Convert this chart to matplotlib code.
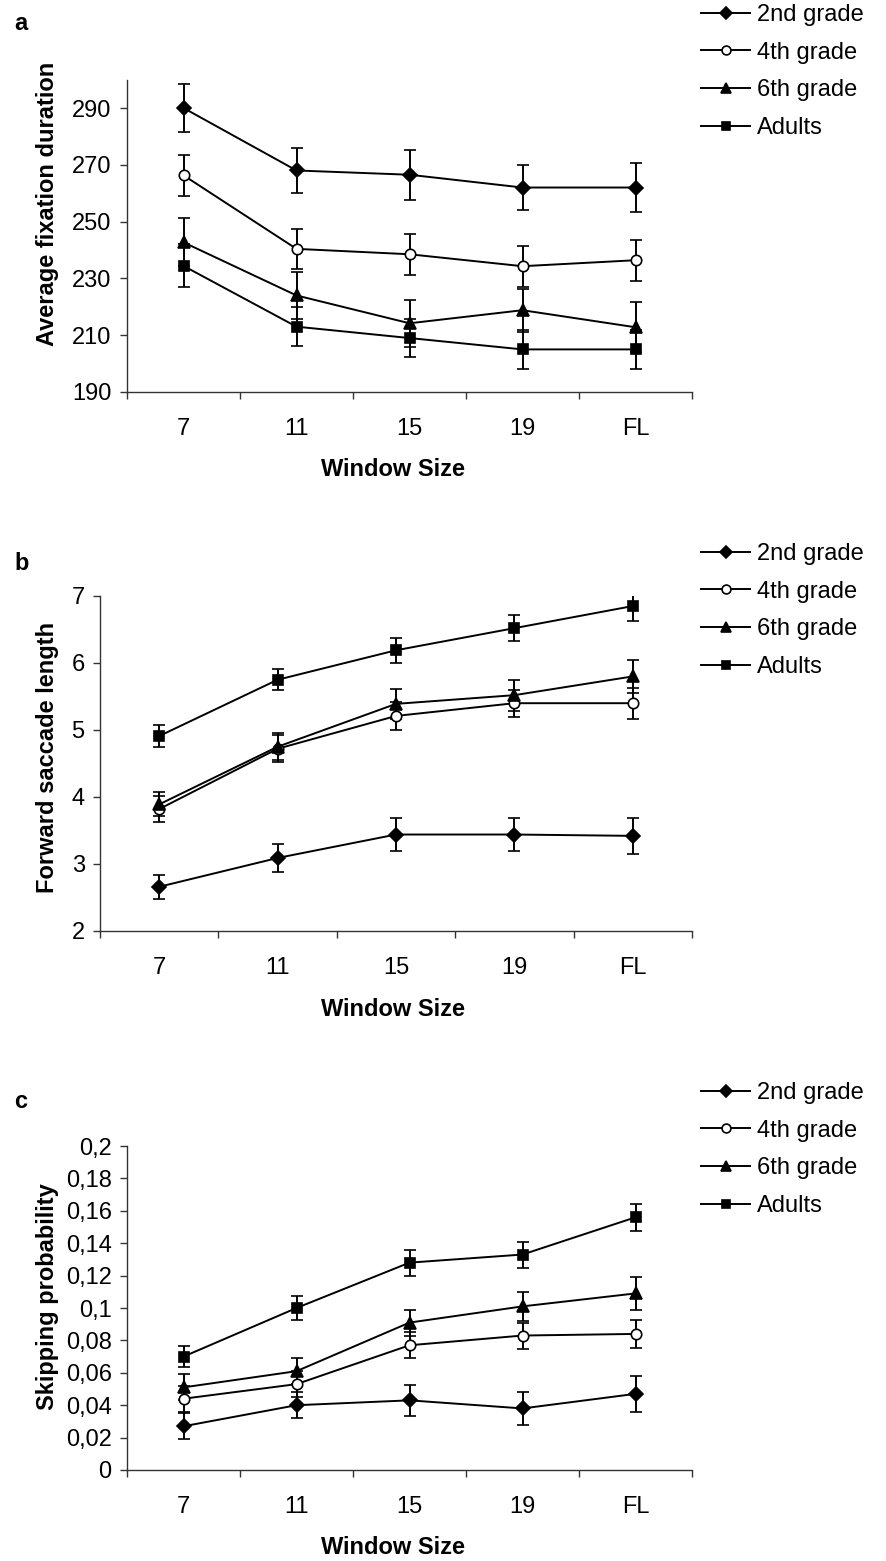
import matplotlib
matplotlib.use("Agg")
import matplotlib.pyplot as plt
from matplotlib.lines import Line2D
from matplotlib.ticker import FuncFormatter, FixedLocator

plt.rcParams['font.family'] = ['Liberation Sans', 'DejaVu Sans']

window = ["7", "11", "15", "19", "FL"]
groups = ["2nd grade", "4th grade", "6th grade", "Adults"]

# a: average fixation duration
fix_mean = [
    [290, 268, 266.5, 262, 262],
    [266.3, 240.4, 238.5, 234.3, 236.4],
    [242.7, 224, 214.2, 218.8, 212.8],
    [234.4, 213, 209, 205, 205],
]
fix_err = [
    [8.5, 7.8, 8.8, 7.9, 8.5],
    [7.3, 7.0, 7.3, 7.2, 7.2],
    [8.5, 8.2, 8.2, 7.6, 8.8],
    [7.6, 6.8, 6.8, 6.8, 6.8],
]

# b: forward saccade length
sac_mean = [
    [2.66, 3.09, 3.44, 3.44, 3.42],
    [3.82, 4.72, 5.21, 5.40, 5.40],
    [3.89, 4.75, 5.39, 5.52, 5.80],
    [4.91, 5.75, 6.19, 6.52, 6.85],
]
sac_err = [
    [0.18, 0.21, 0.24, 0.24, 0.27],
    [0.19, 0.20, 0.21, 0.20, 0.23],
    [0.18, 0.20, 0.22, 0.23, 0.25],
    [0.16, 0.16, 0.19, 0.19, 0.22],
]

# c: skipping probability
skip_mean = [
    [0.027, 0.040, 0.043, 0.038, 0.047],
    [0.044, 0.053, 0.077, 0.083, 0.084],
    [0.051, 0.061, 0.091, 0.101, 0.109],
    [0.070, 0.100, 0.128, 0.133, 0.156],
]
skip_err = [
    [0.008, 0.008, 0.0095, 0.010, 0.011],
    [0.008, 0.008, 0.008, 0.008, 0.0085],
    [0.008, 0.008, 0.008, 0.009, 0.010],
    [0.0065, 0.0072, 0.008, 0.008, 0.0085],
]

markers = ["D", "o", "^", "s"]
faces = ["black", "white", "black", "black"]
msizes = [7, 7.5, 8.5, 7.5]

FS = 17
W, H = 887, 1561

fig = plt.figure(figsize=(W / 100, H / 100), dpi=100)

# (letter, means, errs, ylabel, ylim, yticks, left px, top px, bottom px)
panels = [
    ("a", fix_mean, fix_err, "Average fixation duration", (190, 300), [190, 210, 230, 250, 270, 290],
     127, 79.6, 392),
    ("b", sac_mean, sac_err, "Forward saccade length", (2, 7), [2, 3, 4, 5, 6, 7],
     100, 596, 931),
    ("c", skip_mean, skip_err, "Skipping probability", (0, 0.2),
     [0, 0.02, 0.04, 0.06, 0.08, 0.1, 0.12, 0.14, 0.16, 0.18, 0.2],
     127, 1146, 1470),
]
letter_y = [24, 563, 1102]
xlabel_y = [470, 1009, 1548]
ylabel_y = [204, 757, 1297]
legend_top = [-3, 536, 1075]

x = list(range(len(window)))
for k, (letter, means, errs, ylab, ylim, yticks, left, top, bottom) in enumerate(panels):
    ax = fig.add_axes([left / W, 1 - bottom / H, (692 - left) / W, (bottom - top) / H])
    for i in range(len(groups)):
        ax.errorbar(x, means[i], yerr=errs[i], color="black", lw=1.4,
                    marker=markers[i], ms=msizes[i], mfc=faces[i], mec="black", mew=1.2,
                    capsize=4.5, capthick=1.4, elinewidth=1.4)
    ax.set_xlim(-0.5, 4.5)
    ax.set_ylim(*ylim)
    ax.spines["top"].set_visible(False)
    ax.spines["right"].set_visible(False)
    for s in ("left", "bottom"):
        ax.spines[s].set_linewidth(1.0)
        ax.spines[s].set_color("#333333")
    ax.xaxis.set_major_locator(FixedLocator([-0.5, 0.5, 1.5, 2.5, 3.5, 4.5]))
    ax.xaxis.set_major_formatter(FuncFormatter(lambda v, p: ""))
    ax.xaxis.set_minor_locator(FixedLocator(x))
    ax.set_xticklabels(window, minor=True)
    ax.tick_params(axis="x", which="major", direction="out", length=5, width=1.0, color="#333333")
    ax.tick_params(axis="x", which="minor", length=0, pad=19, labelsize=FS)
    ax.set_yticks(yticks)
    if letter == "c":
        ax.yaxis.set_major_formatter(FuncFormatter(lambda v, p: format(round(v, 2), "g").replace(".", ",")))
    ax.tick_params(axis="y", direction="out", length=5, width=1.0, color="#333333", labelsize=FS, pad=6)

    fig.text(14 / W, 1 - letter_y[k] / H, letter, fontsize=FS, fontweight="bold", va="center", ha="left")
    fig.text(393 / W, 1 - xlabel_y[k] / H, "Window Size", fontsize=FS, fontweight="bold",
             ha="center", va="center")
    fig.text(48 / W, 1 - ylabel_y[k] / H, ylab, fontsize=FS, fontweight="bold", rotation=90,
             ha="center", va="center")

    handles = [Line2D([], [], color="black", lw=1.4, marker=markers[i], ms=msizes[i] * 0.85,
                      mfc=faces[i], mec="black", mew=1.2) for i in range(len(groups))]
    ax.legend(handles=handles, labels=groups, loc="upper left",
              bbox_to_anchor=(694 / W, 1 - legend_top[k] / H), bbox_transform=fig.transFigure,
              frameon=False, fontsize=FS, handlelength=2.08, handletextpad=0.3, labelspacing=0.66,
              borderpad=0.3, borderaxespad=0)

fig.savefig("out.png", dpi=100)
